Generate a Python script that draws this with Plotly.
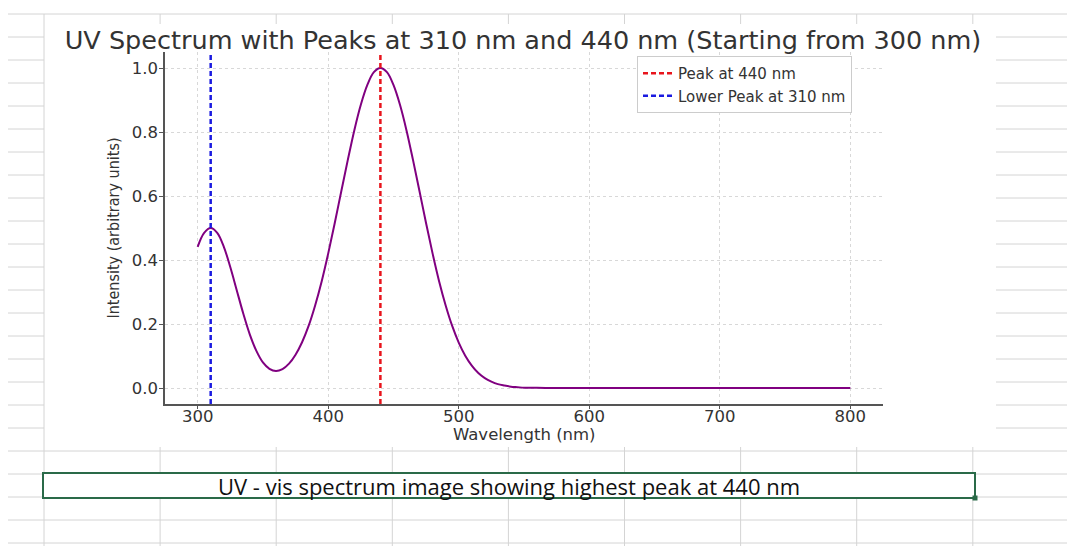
import plotly.graph_objects as go

# ---------------- data ----------------
wavelength = [300, 305, 310, 315, 320, 325, 330, 335, 340, 345, 350, 355, 360, 365,
              370, 375, 380, 385, 390, 395, 400, 405, 410, 415, 420, 425, 430, 435,
              440, 445, 450, 455, 460, 465, 470, 475, 480, 485, 490, 495, 500, 505,
              510, 515, 520, 525, 530, 535, 540, 545, 550, 555, 560, 570, 580, 600,
              650, 700, 750, 800]
intensity = [0.441, 0.485, 0.500, 0.485, 0.442, 0.378, 0.305, 0.232, 0.167, 0.116,
             0.080, 0.060, 0.053, 0.059, 0.076, 0.104, 0.143, 0.194, 0.258, 0.333,
             0.420, 0.515, 0.614, 0.712, 0.805, 0.885, 0.947, 0.987, 1.000, 0.987,
             0.947, 0.885, 0.805, 0.712, 0.614, 0.515, 0.420, 0.333, 0.258, 0.194,
             0.142, 0.101, 0.070, 0.047, 0.031, 0.020, 0.012, 0.0075, 0.004, 0.0025,
             0.001, 0.0008, 0.0004, 0.0001, 0.000, 0.000,
             0.000, 0.000, 0.000, 0.000]
peak_main = 440
peak_lower = 310
legend_labels = ["Peak at 440 nm", "Lower Peak at 310 nm"]
x_ticks = [300, 400, 500, 600, 700, 800]
y_ticks = [0.0, 0.2, 0.4, 0.6, 0.8, 1.0]
x_title = "Wavelength (nm)"
y_title = "Intensity (arbitrary units)"
caption = "UV - vis spectrum image showing highest peak at 440 nm"
title = "UV Spectrum with Peaks at 310 nm and 440 nm (Starting from 300 nm)"

# ---------------- layout helpers (pixel -> paper) ----------------
W, H = 1067, 546
def px(x):
    return x / W
def py(y):
    return 1 - y / H

fig = go.Figure()

fig.add_trace(go.Scatter(
    x=wavelength, y=intensity, mode="lines",
    line=dict(color="#800080", width=2, shape="spline", smoothing=1.0),
    showlegend=False, hoverinfo="skip"))

fig.add_trace(go.Scatter(
    x=[peak_main, peak_main], y=[0, 1], yaxis="y2", mode="lines",
    name=legend_labels[0],
    line=dict(color="#e8141c", width=2.5, dash="5px,3px")))
fig.add_trace(go.Scatter(
    x=[peak_lower, peak_lower], y=[0, 1], yaxis="y2", mode="lines",
    name=legend_labels[1],
    line=dict(color="#1a1ae0", width=2.5, dash="5px,3px")))

# ---------------- spreadsheet background grid ----------------
shapes = []
grid_col = "#d4d4d4"
img_top, img_bot, img_right = 24, 447, 996
rows = [14 + 23 * k for k in range(24)]
cols = [44 + 116.1 * j for j in range(9)]
for y in rows:
    if y < img_top or y > img_bot:
        segs = [(8, W)]
    else:
        segs = [(8, 44), (img_right, W)]
    for a, b in segs:
        shapes.append(dict(type="line", xref="paper", yref="paper",
                           x0=px(a), x1=px(b), y0=py(y), y1=py(y),
                           line=dict(color=grid_col, width=1), layer="below"))
for j, x in enumerate(cols):
    if j == 0:
        segs = [(14, H)]
    else:
        segs = [(14, img_top), (img_bot, 474), (497, H)]
    for a, b in segs:
        shapes.append(dict(type="line", xref="paper", yref="paper",
                           x0=px(x), x1=px(x), y0=py(a), y1=py(b),
                           line=dict(color=grid_col, width=1), layer="below"))

# caption box
shapes.append(dict(type="rect", xref="paper", yref="paper",
                   x0=px(43), x1=px(975), y0=py(498), y1=py(473),
                   line=dict(color="#2a6a48", width=2), fillcolor="white"))
shapes.append(dict(type="rect", xref="paper", yref="paper",
                   x0=px(972.5), x1=px(977.5), y0=py(500.5), y1=py(495.5),
                   line=dict(color="#2a6a48", width=0), fillcolor="#2a6a48"))

annotations = [
    dict(text=caption, xref="paper", yref="paper",
         x=px(509), y=py(485.5), xanchor="center", yanchor="middle",
         showarrow=False,
         font=dict(family="Open Sans, Lato, sans-serif", size=22, color="#111")),
    dict(text=x_title, xref="paper", yref="paper",
         x=px(524), y=py(434), xanchor="center", yanchor="middle",
         showarrow=False,
         font=dict(family="DejaVu Sans", size=16.5, color="#333")),
]

tick_font = dict(family="DejaVu Sans", size=16.5, color="#333")

fig.update_layout(
    width=W, height=H, template="none",
    paper_bgcolor="white", plot_bgcolor="white",
    margin=dict(l=0, r=0, t=0, b=0),
    title=dict(text=title, x=px(523), y=py(40), xanchor="center", yanchor="middle",
               xref="paper", yref="paper",
               font=dict(family="DejaVu Sans", size=25.5, color="#333")),
    xaxis=dict(domain=[px(165), px(883)], range=[275, 825],
               tickvals=x_ticks, ticktext=[str(v) for v in x_ticks],
               showline=True, linecolor="#555", linewidth=1.5,
               ticks="outside", ticklen=3, tickcolor="#555", ticklabelstandoff=-7,
               showgrid=True, gridcolor="#d8d8d8", griddash="dot", gridwidth=1,
               zeroline=False, tickfont=tick_font),
    yaxis=dict(domain=[py(404), py(52)], range=[-0.05, 1.05],
               tickvals=y_ticks, ticktext=["%.1f" % v for v in y_ticks],
               showline=True, linecolor="#555", linewidth=1.5,
               ticks="outside", ticklen=4, tickcolor="#555", ticklabelstandoff=-2,
               showgrid=True, gridcolor="#d8d8d8", griddash="dot", gridwidth=1,
               zeroline=False, tickfont=tick_font,
               title=dict(text=y_title, standoff=8,
                          font=dict(family="Liberation Sans Narrow, DejaVu Sans Condensed, sans-serif",
                                    size=16, color="#333"))),
    yaxis2=dict(domain=[py(404), py(52)], range=[0, 1], overlaying="y",
                visible=False, fixedrange=True),
    legend=dict(x=px(637), y=py(56), xanchor="left", yanchor="top",
                bgcolor="white", bordercolor="#cccccc", borderwidth=1,
                font=dict(family="DejaVu Sans", size=15, color="#333"),
                itemwidth=30, tracegroupgap=0),
    shapes=shapes, annotations=annotations,
)

fig.write_html("out.html")
